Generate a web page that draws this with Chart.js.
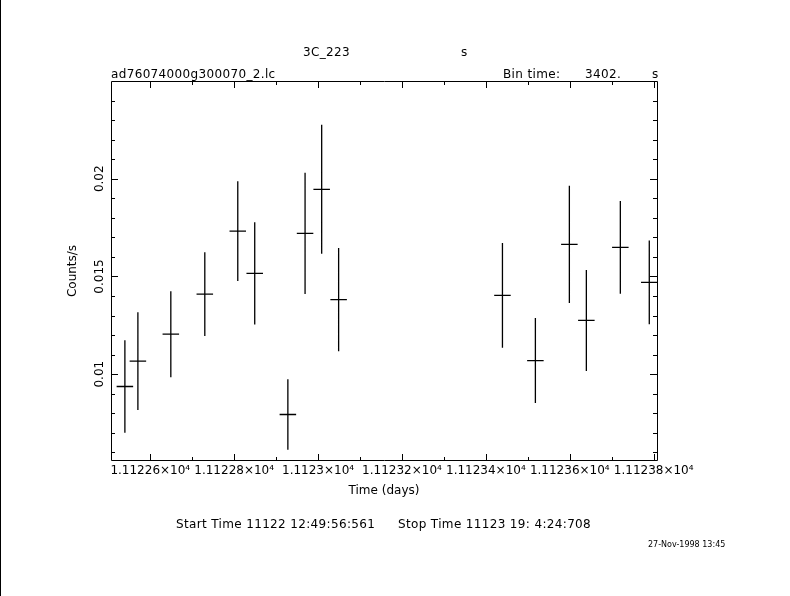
<!doctype html>
<html lang="en">
<head>
<meta charset="utf-8">
<title>3C_223 light curve</title>
<script src="https://cdn.jsdelivr.net/npm/chart.js"></script>
<style>
  body { margin: 0; background: #fff; }
  #wrap { position: relative; width: 790px; height: 596px; overflow: hidden; background: #fff; }
  #wrap canvas { position: absolute; left: 0; top: 0; }
  #edge { position: absolute; left: 0; top: 0; width: 1px; height: 596px; background: #000; }
  .txt { position: absolute; font-family: "DejaVu Sans", sans-serif; font-size: 12px; line-height: 12px;
         letter-spacing: 0.35px; color: #000; white-space: nowrap; }
  .small { font-size: 8px; line-height: 8px; letter-spacing: 0; }
</style>
</head>
<body>
<div id="wrap">
  <canvas id="lc" width="790" height="596"></canvas>
  <div id="edge"></div>
  <div class="txt" style="left:303px; top:46px;">3C_223</div>
  <div class="txt" style="left:461px; top:46px;">s</div>
  <div class="txt" style="left:111px; top:68px;">ad76074000g300070_2.lc</div>
  <div class="txt" style="left:503px; top:68px;">Bin time:</div>
  <div class="txt" style="left:585px; top:68px;">3402.</div>
  <div class="txt" style="left:652px; top:68px;">s</div>
  <div class="txt" style="left:176px; top:518px;">Start Time 11122 12:49:56:561</div>
  <div class="txt" style="left:398px; top:518px;">Stop Time 11123 19: 4:24:708</div>
  <div class="txt small" style="left:648px; top:541px;">27-Nov-1998 13:45</div>
</div>
<script>
// light curve bins (time in days, count rate and 1-sigma error)
const timeDays = [11122.5395, 11122.5705, 11122.649, 11122.730, 11122.8086, 11122.849,
                  11122.928, 11122.969, 11123.0086, 11123.049, 11123.4395, 11123.518,
                  11123.599, 11123.6395, 11123.7205, 11123.7895];
const rate = [0.00937, 0.01067, 0.01205, 0.01410, 0.01732, 0.01516, 0.00794, 0.01720,
              0.01946, 0.01382, 0.01403, 0.01070, 0.01664, 0.01275, 0.01649, 0.01470];
const rateErr = [0.00237, 0.00250, 0.00220, 0.00214, 0.00255, 0.00262, 0.00180, 0.00310,
                 0.00330, 0.00264, 0.00268, 0.00217, 0.00300, 0.00258, 0.00237, 0.00214];
const binTimeSec = 3402;

// axes
const xMin = 11122.5064, xMax = 11123.8079;
const yMin = 0.00556, yMax = 0.025;
const xMajor = [11122.6, 11122.8, 11123.0, 11123.2, 11123.4, 11123.6, 11123.8];
const xTickLabels = ['1.11226×10⁴', '1.11228×10⁴', '1.1123×10⁴', '1.11232×10⁴',
                     '1.11234×10⁴', '1.11236×10⁴', '1.11238×10⁴'];
const xMinor = [11122.7, 11122.9, 11123.1, 11123.3, 11123.5, 11123.7];
const yMajor = [0.01, 0.015, 0.02];
const yTickLabels = ['0.01', '0.015', '0.02'];
const yMinor = [0.006, 0.007, 0.008, 0.009, 0.011, 0.012, 0.013, 0.014, 0.016,
                0.017, 0.018, 0.019, 0.021, 0.022, 0.023, 0.024];

const halfBin = binTimeSec / 86400 / 2;
const font = { family: '"DejaVu Sans", sans-serif', size: 12 };

const lightCurve = {
  id: 'lightCurve',
  afterDatasetsDraw(chart) {
    const { ctx, chartArea: a, scales: { x, y } } = chart;
    ctx.save();
    ctx.beginPath();
    ctx.rect(a.left, a.top, a.right - a.left, a.bottom - a.top);
    ctx.clip();
    ctx.strokeStyle = '#000';
    ctx.lineWidth = 1.3;
    ctx.beginPath();
    timeDays.forEach((t, i) => {
      const px = x.getPixelForValue(t);
      const py = y.getPixelForValue(rate[i]);
      ctx.moveTo(x.getPixelForValue(t - halfBin), py);
      ctx.lineTo(x.getPixelForValue(t + halfBin), py);
      ctx.moveTo(px, y.getPixelForValue(rate[i] + rateErr[i]));
      ctx.lineTo(px, y.getPixelForValue(rate[i] - rateErr[i]));
    });
    ctx.stroke();
    ctx.restore();

    // frame with inward ticks on all four sides
    ctx.save();
    ctx.strokeStyle = '#000';
    ctx.lineWidth = 1;
    ctx.beginPath();
    ctx.rect(Math.round(a.left) + 0.5, Math.round(a.top) + 0.5,
             Math.round(a.right - a.left), Math.round(a.bottom - a.top) - 1);
    const xt = (vals, len) => vals.forEach(v => {
      const p = Math.round(x.getPixelForValue(v)) + 0.5;
      ctx.moveTo(p, a.bottom); ctx.lineTo(p, a.bottom - len);
      ctx.moveTo(p, a.top); ctx.lineTo(p, a.top + len);
    });
    const yt = (vals, len) => vals.forEach(v => {
      const p = Math.round(y.getPixelForValue(v)) + 0.5;
      ctx.moveTo(a.left, p); ctx.lineTo(a.left + len, p);
      ctx.moveTo(a.right, p); ctx.lineTo(a.right - len, p);
    });
    xt(xMajor, 7); xt(xMinor, 4);
    yt(yMajor, 7); yt(yMinor, 4);
    ctx.stroke();
    ctx.restore();
  }
};

new Chart(document.getElementById('lc'), {
  type: 'scatter',
  data: {
    datasets: [{
      data: timeDays.map((t, i) => ({ x: t, y: rate[i] })),
      pointRadius: 0,
      showLine: false
    }]
  },
  options: {
    responsive: false,
    animation: false,
    devicePixelRatio: 1,
    layout: { padding: { left: 0, top: 81, right: 133, bottom: 98 } },
    plugins: { legend: { display: false }, tooltip: { enabled: false } },
    scales: {
      x: {
        type: 'linear', min: xMin, max: xMax,
        afterBuildTicks: s => { s.ticks = xMajor.map(v => ({ value: v })); },
        afterFit: s => { s.height = 37; },
        grid: { display: false, drawTicks: false },
        border: { display: false },
        ticks: { callback: (v, i) => xTickLabels[i], font, color: '#000', padding: 3,
                 maxRotation: 0, autoSkip: false },
        title: { display: true, text: 'Time (days)', font, color: '#000', padding: 0 }
      },
      y: {
        type: 'linear', min: yMin, max: yMax,
        afterBuildTicks: s => { s.ticks = yMajor.map(v => ({ value: v })); },
        afterFit: s => { s.width = 111; },
        grid: { display: false, drawTicks: false },
        border: { display: false },
        ticks: { callback: (v, i) => yTickLabels[i], font, color: '#000', padding: -6,
                 minRotation: 90, maxRotation: 90, crossAlign: 'center', autoSkip: false },
        title: { display: true, text: 'Counts/s', font, color: '#000', padding: { top: 66, bottom: 0 } }
      }
    }
  },
  plugins: [lightCurve]
});
</script>
</body>
</html>
